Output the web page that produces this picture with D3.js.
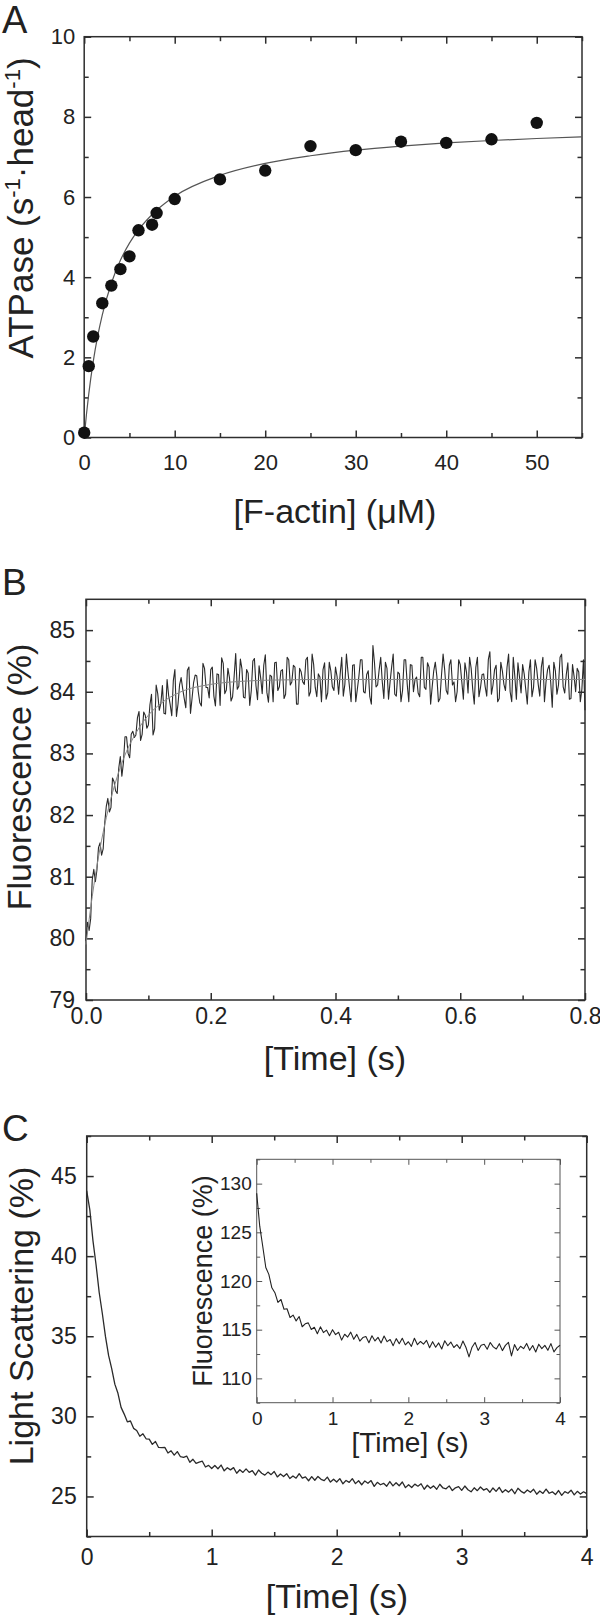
<!DOCTYPE html>
<html>
<head>
<meta charset="utf-8">
<script src="https://cdn.jsdelivr.net/npm/d3@7"></script>
<style>
  body { margin: 0; background: #fff; }
  svg { display: block; }
  svg text { font-family: "Liberation Sans", Arial, sans-serif; fill: #222; }
</style>
</head>
<body>
<svg id="chart"></svg>
<script>
// ---- panel A: steady-state ATPase vs actin ----
const actinConc = [0, 0.5, 1, 2, 3, 4, 5, 6, 7.5, 8, 10, 15, 20, 25, 30, 35, 40, 45, 50];
const atpaseRate = [0.12, 1.78, 2.52, 3.35, 3.79, 4.2, 4.52, 5.17, 5.31, 5.6, 5.95, 6.44, 6.66, 7.27, 7.17, 7.38, 7.35, 7.44, 7.85];
const fitConc = [0, 0.25, 0.5, 1, 1.5, 2, 3, 4, 5, 6, 8, 10, 15, 20, 25, 30, 35, 40, 45, 50, 55];
const fitRate = [0, 0.58, 1.08, 1.9, 2.54, 3.06, 3.85, 4.42, 4.85, 5.18, 5.67, 6.02, 6.54, 6.84, 7.03, 7.17, 7.27, 7.35, 7.41, 7.46, 7.5];

// ---- panel B: fluorescence transient, sampled every 2.5 ms ----
const bStep = 0.0025;
const bTrace = [
  79.96,80.26,80.13,80.32,80.95,81.12,80.92,81.11,81.47,81.55,81.35,81.45,81.87,82.14,82.27,82.05,82.12,82.60,82.54,82.39,
  82.35,82.76,82.95,82.63,82.85,83.27,83.27,83.00,82.93,83.31,83.36,83.26,83.30,83.58,83.68,83.21,83.31,83.67,83.62,83.41,
  83.46,83.79,83.96,83.30,83.40,84.11,83.97,83.70,83.81,84.10,83.65,83.64,84.20,83.94,83.79,83.61,84.18,84.36,83.60,83.80,
  84.11,84.23,84.05,83.89,83.74,84.35,84.40,83.65,83.89,84.15,84.27,84.26,84.00,83.82,83.77,84.46,84.38,84.07,84.07,83.90,
  84.36,84.40,83.93,83.77,84.29,84.28,83.78,84.55,84.46,83.97,84.03,84.38,84.23,83.85,83.92,84.25,84.62,84.04,84.09,84.53,
  84.37,83.91,83.90,84.36,84.30,83.78,84.02,84.50,84.54,84.10,83.87,84.42,84.23,83.97,84.43,84.60,83.99,83.83,84.27,84.25,
  83.84,84.47,84.48,84.02,84.08,84.34,84.36,83.89,83.96,84.56,84.52,84.11,84.16,84.43,84.40,83.80,83.80,84.38,84.32,84.16,
  84.12,84.52,84.56,83.93,84.00,84.61,84.44,84.07,83.92,84.29,84.24,83.84,84.36,84.47,83.88,83.98,84.48,84.34,84.08,84.02,
  84.40,84.25,83.96,84.29,84.56,83.93,84.12,84.61,84.32,84.07,83.84,84.43,84.44,83.84,84.04,84.25,84.52,84.52,84.00,83.98,
  84.28,84.34,83.92,83.80,84.75,84.47,84.08,84.11,84.36,84.56,84.16,83.89,84.48,84.38,83.88,84.16,84.40,84.61,83.96,83.93,
  84.32,84.29,83.84,84.02,84.52,84.52,84.12,83.84,84.44,84.43,84.00,84.20,84.24,83.98,83.92,84.56,84.56,84.07,84.04,84.47,
  84.40,83.80,84.08,84.34,84.48,84.25,83.84,83.89,84.28,84.61,84.36,84.02,83.96,84.43,84.52,84.11,84.16,83.84,84.00,84.52,
  84.44,84.16,83.88,84.47,84.32,83.98,84.56,84.38,84.04,83.80,84.40,84.56,83.92,84.07,84.28,84.29,84.08,83.93,84.52,84.65,
  83.96,84.11,84.36,84.43,83.84,83.89,84.48,84.34,84.12,84.02,84.40,84.61,84.00,83.84,84.56,84.25,83.88,84.47,84.24,83.98,
  84.44,84.29,84.04,83.80,84.32,84.52,83.92,84.07,84.52,84.38,84.12,83.93,84.40,84.56,83.84,84.16,84.36,84.43,84.16,83.75,
  84.48,84.34,83.96,84.11,84.56,84.61,84.08,83.98,84.28,84.47,83.88,83.89,84.44,84.25,84.00,84.38,84.32,83.84,84.04,84.52,
  83.70];
const bFitTime = [0, 0.01, 0.02, 0.03, 0.04, 0.05, 0.06, 0.08, 0.1, 0.12, 0.15, 0.2, 0.25, 0.3, 0.4, 0.8];
const bFitValue = [79.9, 80.68, 81.32, 81.84, 82.27, 82.62, 82.91, 83.33, 83.62, 83.81, 83.99, 84.12, 84.17, 84.19, 84.2, 84.2];

// ---- panel C: light scattering, sampled every 25 ms ----
const cStep = 0.025;
const cTrace = [44.07,42.89,40.97,39.45,37.73,36.42,34.99,33.80,32.98,32.01,
  31.44,30.56,30.14,29.66,29.71,29.25,29.12,28.76,28.91,28.60,
  28.58,28.25,28.43,28.06,28.05,28.06,27.71,27.85,27.58,27.80,
  27.48,27.44,27.52,27.13,27.32,27.07,27.14,27.20,26.84,26.94,
  26.74,26.93,26.73,26.96,26.60,26.79,26.66,26.80,26.45,26.67,
  26.50,26.72,26.50,26.61,26.33,26.65,26.45,26.33,26.52,26.36,
  26.56,26.22,26.40,26.24,26.42,26.12,26.28,26.14,26.42,26.14,
  26.22,25.98,26.24,26.01,26.25,26.07,25.99,26.21,25.90,26.08,
  25.90,26.11,25.79,26.00,25.88,26.11,25.80,25.98,25.73,25.97,
  25.82,25.99,25.63,25.88,25.73,25.82,25.64,25.93,25.66,25.86,
  25.67,25.90,25.55,25.73,25.56,25.77,25.64,25.79,25.45,25.70,
  25.51,25.66,25.45,25.76,25.53,25.48,25.66,25.37,25.54,25.61,
  25.38,25.65,25.42,25.29,25.54,25.36,25.59,25.40,25.49,25.26,
  25.53,25.32,25.57,25.25,25.42,25.27,25.46,25.17,25.51,25.32,
  25.21,25.40,25.26,25.45,25.14,25.34,25.19,25.46,25.20,25.29,
  25.12,25.37,25.07,25.30,25.20,25.39,25.10,25.32,25.15,25.29,
  25.18];

// ---- panel C inset: fluorescence, sampled every 40 ms ----
const insetStep = 0.04;
const insetTrace = [129.01,125.63,123.54,121.39,120.68,119.30,118.80,117.80,118.10,117.10,
  117.15,116.25,116.50,115.90,116.35,115.30,115.60,115.70,115.02,115.25,
  114.59,115.29,114.70,114.96,114.38,115.00,114.49,114.73,113.93,114.53,
  114.24,114.75,114.01,114.52,113.83,114.19,114.30,113.66,114.37,113.84,
  114.21,113.63,114.35,113.77,113.99,113.36,114.08,113.55,114.12,113.44,
  113.76,113.29,114.12,113.46,113.79,113.52,113.90,113.14,113.77,113.20,
  113.64,113.02,113.86,113.35,113.73,113.17,113.46,113.05,113.83,113.17,
  112.20,113.20,113.68,112.87,113.41,113.50,112.99,113.68,113.23,113.02,
  113.56,112.85,113.39,113.69,112.30,113.47,112.86,113.30,113.05,113.59,
  112.88,113.37,112.71,113.51,113.05,113.39,112.88,113.57,112.72,113.16,
  113.40];

// ---- ticks ----
const aXMajor = [0, 10, 20, 30, 40, 50], aXMinor = [5, 15, 25, 35, 45, 55];
const aYMajor = [0, 2, 4, 6, 8, 10], aYMinor = [1, 3, 5, 7, 9];
const bXMajor = [0, 0.2, 0.4, 0.6, 0.8], bXMinor = [0.1, 0.3, 0.5, 0.7];
const bYMajor = [79, 80, 81, 82, 83, 84, 85], bYMinor = [79.5, 80.5, 81.5, 82.5, 83.5, 84.5];
const cXMajor = [0, 1, 2, 3, 4], cXMinor = [0.5, 1.5, 2.5, 3.5];
const cYMajor = [25, 30, 35, 40, 45], cYMinor = [22.5, 27.5, 32.5, 37.5, 42.5, 47.5];
const insetYMajor = [110, 115, 120, 125, 130], insetYMinor = [107.5, 112.5, 117.5, 122.5, 127.5, 132.5];

const svg = d3.select('#chart').attr('width', 600).attr('height', 1621);
svg.append('rect').attr('width', 600).attr('height', 1621).attr('fill', '#fff');

function makePanel(box, xDomain, yDomain) {
  const x = d3.scaleLinear().domain(xDomain).range([box.left, box.right]);
  const y = d3.scaleLinear().domain(yDomain).range([box.bottom, box.top]);
  const g = svg.append('g');
  return { x, y, g, box };
}

// framed box with inward ticks on all four sides, labels bottom and left
function drawFrame(p, o) {
  const { x, y, g, box } = p;
  const sw = o.sw || 1.5, col = o.color || '#2e2e2e';
  const tickLines = (axis, tr, vals, len) => {
    g.append('g').attr('transform', tr)
      .call(axis.tickValues(vals).tickSize(-len).tickFormat(''))
      .call(s => s.select('.domain').remove())
      .selectAll('line').attr('stroke', col).attr('stroke-width', sw);
  };
  [[o.xMajor, o.major], [o.xMinor, o.minor]].forEach(([vals, len]) => {
    tickLines(d3.axisBottom(x), `translate(0,${box.bottom})`, vals, len);
    tickLines(d3.axisTop(x), `translate(0,${box.top})`, vals, len);
  });
  [[o.yMajor, o.major], [o.yMinor, o.minor]].forEach(([vals, len]) => {
    tickLines(d3.axisLeft(y), `translate(${box.left},0)`, vals, len);
    tickLines(d3.axisRight(y), `translate(${box.right},0)`, vals, len);
  });
  g.append('rect')
    .attr('x', box.left).attr('y', box.top)
    .attr('width', box.right - box.left).attr('height', box.bottom - box.top)
    .attr('fill', 'none').attr('stroke', col).attr('stroke-width', sw);

  const xl = g.append('g').attr('transform', `translate(0,${box.bottom})`)
    .call(d3.axisBottom(x).tickValues(o.xMajor).tickSize(0).tickPadding(o.xPad).tickFormat(o.xFmt));
  const yl = g.append('g').attr('transform', `translate(${box.left},0)`)
    .call(d3.axisLeft(y).tickValues(o.yMajor).tickSize(0).tickPadding(o.yPad).tickFormat(o.yFmt));
  [xl, yl].forEach(a => {
    a.select('.domain').remove();
    a.selectAll('text').attr('font-size', o.fs);
  });
}

function title(g, text, x, y, fs, rotate) {
  return g.append('text')
    .attr('transform', rotate ? `translate(${x},${y}) rotate(-90)` : `translate(${x},${y})`)
    .attr('text-anchor', 'middle').attr('font-size', fs).text(text);
}

function letter(t, x, y, fs) {
  svg.append('text').attr('x', x).attr('y', y).attr('font-size', fs).text(t);
}

// ================= A =================
const pA = makePanel({ left: 84.2, right: 582, top: 36.7, bottom: 437.5 }, [0, 55], [0, 10]);
drawFrame(pA, { xMajor: aXMajor, xMinor: aXMinor, yMajor: aYMajor, yMinor: aYMinor,
  major: 7, minor: 4.5, fs: 22, xPad: 17, yPad: 9, xFmt: d3.format('d'), yFmt: d3.format('d') });

pA.g.append('path')
  .datum(fitConc.map((c, i) => [c, fitRate[i]]))
  .attr('fill', 'none').attr('stroke', '#555').attr('stroke-width', 1.2)
  .attr('d', d3.line().x(d => pA.x(d[0])).y(d => pA.y(d[1])).curve(d3.curveMonotoneX));

pA.g.selectAll('circle.pt')
  .data(actinConc.map((c, i) => [c, atpaseRate[i]]))
  .join('circle').attr('class', 'pt')
  .attr('cx', d => pA.x(d[0])).attr('cy', d => pA.y(d[1]))
  .attr('r', 6.2).attr('fill', '#111');

title(pA.g, '[F-actin] (\u03bcM)', 335, 523, 34, false);
const aY = pA.g.append('text')
  .attr('transform', 'translate(33,208) rotate(-90)')
  .attr('text-anchor', 'middle').attr('font-size', 35);
aY.append('tspan').text('ATPase (s');
aY.append('tspan').attr('font-size', 22).attr('dy', -13).text('-1');
aY.append('tspan').attr('dy', 13).text('\u00b7head');
aY.append('tspan').attr('font-size', 22).attr('dy', -13).text('-1');
aY.append('tspan').attr('dy', 13).text(')');
letter('A', 2, 33, 38);

// ================= B =================
const pB = makePanel({ left: 86, right: 585, top: 599.3, bottom: 1000 }, [0, 0.8], [79, 85.5]);
drawFrame(pB, { xMajor: bXMajor, xMinor: bXMinor, yMajor: bYMajor, yMinor: bYMinor,
  major: 7, minor: 4.5, fs: 23, xPad: 8, yPad: 11, xFmt: d3.format('.1f'), yFmt: d3.format('d') });

pB.g.append('path')
  .datum(bTrace)
  .attr('fill', 'none').attr('stroke', '#2a2a2a').attr('stroke-width', 1.1)
  .attr('stroke-linejoin', 'round')
  .attr('d', d3.line().x((d, i) => pB.x(i * bStep)).y(d => pB.y(d)));
pB.g.append('path')
  .datum(bFitTime.map((t, i) => [t, bFitValue[i]]))
  .attr('fill', 'none').attr('stroke', '#888').attr('stroke-width', 1)
  .attr('d', d3.line().x(d => pB.x(d[0])).y(d => pB.y(d[1])).curve(d3.curveMonotoneX));

title(pB.g, '[Time] (s)', 335, 1070, 34, false);
title(pB.g, 'Fluorescence (%)', 31, 777, 34, true);
letter('B', 2, 595, 37);

// ================= C =================
const pC = makePanel({ left: 86.7, right: 586.7, top: 1136, bottom: 1536.5 }, [0, 4], [22.5, 47.5]);
drawFrame(pC, { xMajor: cXMajor, xMinor: cXMinor, yMajor: cYMajor, yMinor: cYMinor,
  major: 7, minor: 4.5, fs: 23, xPad: 12, yPad: 10, xFmt: d3.format('d'), yFmt: d3.format('d') });

pC.g.append('path')
  .datum(cTrace)
  .attr('fill', 'none').attr('stroke', '#2a2a2a').attr('stroke-width', 1.3)
  .attr('stroke-linejoin', 'round')
  .attr('d', d3.line().x((d, i) => pC.x(i * cStep)).y(d => pC.y(d)));

title(pC.g, '[Time] (s)', 337, 1608, 34, false);
title(pC.g, 'Light Scattering (%)', 33, 1316, 34, true);
letter('C', 2, 1141, 37);

// inset
const pI = makePanel({ left: 256.7, right: 560, top: 1159.3, bottom: 1402.7 }, [0, 4], [107.5, 132.5]);
pI.g.append('rect')
  .attr('x', 256.7).attr('y', 1159.3).attr('width', 303.3).attr('height', 243.4).attr('fill', '#fff');
drawFrame(pI, { xMajor: cXMajor, xMinor: cXMinor, yMajor: insetYMajor, yMinor: insetYMinor,
  major: 5.5, minor: 3.5, fs: 19, xPad: 9, yPad: 5, sw: 1, color: '#555',
  xFmt: d3.format('d'), yFmt: d3.format('d') });

pI.g.append('path')
  .datum(insetTrace)
  .attr('fill', 'none').attr('stroke', '#222').attr('stroke-width', 1.1)
  .attr('stroke-linejoin', 'round')
  .attr('d', d3.line().x((d, i) => pI.x(i * insetStep)).y(d => pI.y(d)));

title(pI.g, '[Time] (s)', 410, 1452, 28, false);
title(pI.g, 'Fluorescence (%)', 212, 1281, 27, true);
</script>
</body>
</html>
